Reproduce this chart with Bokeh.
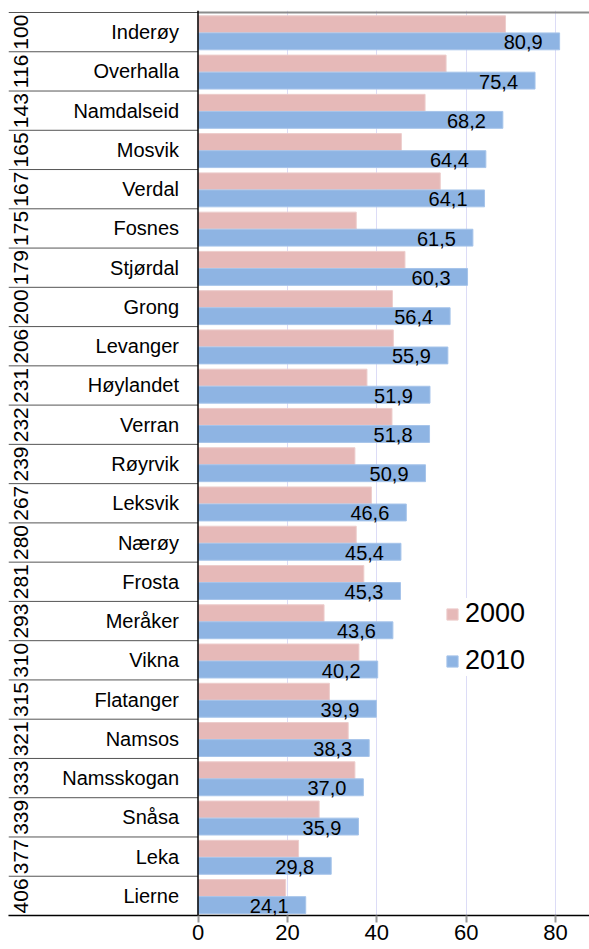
import math
from bokeh.plotting import figure
from bokeh.models import (ColumnDataSource, Range1d, FixedTicker, Span,
                          Legend, LegendItem)
from bokeh.core.properties import value
from bokeh.embed import file_html
from bokeh.resources import INLINE

names = ["Inderøy", "Overhalla", "Namdalseid", "Mosvik", "Verdal", "Fosnes",
         "Stjørdal", "Grong", "Levanger", "Høylandet", "Verran", "Røyrvik",
         "Leksvik", "Nærøy", "Frosta", "Meråker", "Vikna", "Flatanger",
         "Namsos", "Namsskogan", "Snåsa", "Leka", "Lierne"]
ranks = [100, 116, 143, 165, 167, 175, 179, 200, 206, 231, 232, 239, 267,
         280, 281, 293, 310, 315, 321, 333, 339, 377, 406]
v2000 = [68.8, 55.5, 50.8, 45.5, 54.2, 35.4, 46.3, 43.5, 43.7, 37.8, 43.4,
         35.1, 38.8, 35.4, 37.1, 28.2, 36.0, 29.4, 33.6, 35.1, 27.1, 22.5, 19.6]
v2010 = [80.9, 75.4, 68.2, 64.4, 64.1, 61.5, 60.3, 56.4, 55.9, 51.9, 51.8,
         50.9, 46.6, 45.4, 45.3, 43.6, 40.2, 39.9, 38.3, 37.0, 35.9, 29.8, 24.1]
x_ticks = [0, 20, 40, 60, 80]
series = ["2000", "2010"]

PINK = "#E6B9B8"
BLUE = "#8EB4E3"
FONT = "Liberation Sans"

n = len(names)
centers = [n - i - 0.5 for i in range(n)]
boundaries = list(range(n + 1))

# layout (pixels)
W, H = 589, 949
FRAME_L, FRAME_T, FRAME_B = 8, 10, 915
AXIS_X = 197.5            # pixel position of value 0
PX_PER_UNIT = 4.47
TOP_PAD_PX = 2
cat_px = (FRAME_B - FRAME_T - TOP_PAD_PX) / n

x_start = -(AXIS_X - FRAME_L) / PX_PER_UNIT
x_end = (W - AXIS_X) / PX_PER_UNIT
y_end = n + TOP_PAD_PX / cat_px

src = ColumnDataSource(dict(
    name=names, rank=[str(r) for r in ranks],
    v2000=v2000, v2010=v2010,
    yc=centers,
    y2000=[c + 0.20 for c in centers],
    y2010=[c - 0.235 for c in centers],
    lab=[f"{v:.1f}".replace(".", ",") for v in v2010],
    xl=[0] * n,
    xr=[x_start] * n,
))
sep = ColumnDataSource(dict(y=boundaries, x0=[x_start] * len(boundaries),
                            x1=[0] * len(boundaries)))

p = figure(width=W, height=H, output_backend="svg", toolbar_location=None,
           x_range=Range1d(x_start, x_end), y_range=Range1d(0, y_end),
           min_border_left=FRAME_L, min_border_top=FRAME_T,
           min_border_bottom=H - FRAME_B, min_border_right=0)
p.outline_line_color = None
p.background_fill_color = "white"
p.border_fill_color = "white"

# grid
p.xgrid.ticker = FixedTicker(ticks=x_ticks[1:])
p.xgrid.grid_line_color = "#DCDCF6"
p.xgrid.grid_line_width = 1
p.ygrid.visible = False

r1 = p.hbar(y="y2000", right="v2000", left=0, height=0.43, source=src,
            fill_color=PINK, line_color="#EDCDCC", line_width=1)
r2 = p.hbar(y="y2010", right="v2010", left=0, height=0.43, source=src,
            fill_color=BLUE, line_color="#A6C4EA", line_width=1)

p.text(x="v2010", y="y2010", text="lab", source=src, text_align="right",
       text_baseline="middle", x_offset=-17, y_offset=1,
       text_font_size="20px", text_font=value(FONT), text_color="black")

# left label area: separators, names, rotated ranks
p.segment(x0="x0", x1="x1", y0="y", y1="y", source=sep,
          line_color="#555555", line_width=1)
p.text(x="xl", y="yc", text="name", source=src, text_align="right",
       text_baseline="middle", x_offset=-19, text_font_size="20px",
       text_font=value(FONT), text_color="black")
p.text(x="xr", y="yc", text="rank", source=src, angle=math.pi / 2,
       text_align="center", text_baseline="middle", x_offset=12,
       text_font_size="21px", text_font=value(FONT), text_color="black")

# top line of plot area and the value axis line
p.segment(x0=[0], x1=[x_end], y0=[n], y1=[n], line_color="#8C8C8C",
          line_width=2)
p.add_layout(Span(location=0, dimension="height", line_color="black",
                  line_width=1.5))

# x axis
xa = p.xaxis[0]
xa.ticker = FixedTicker(ticks=x_ticks)
xa.axis_line_color = "black"
xa.axis_line_width = 1.5
xa.major_tick_out = 7
xa.major_tick_in = 0
xa.major_tick_line_color = "#9A9A9A"
xa.major_tick_line_width = 2
xa.minor_tick_line_color = None
xa.major_label_standoff = 2
xa.major_label_text_font = FONT
xa.major_label_text_font_size = "22px"
xa.major_label_text_color = "black"
p.yaxis.visible = False

legend = Legend(items=[LegendItem(label=series[0], renderers=[r1]),
                       LegendItem(label=series[1], renderers=[r2])],
                location=(437, 239))
legend.glyph_width = 14
legend.glyph_height = 14
legend.label_standoff = 6
legend.label_text_font = FONT
legend.label_text_font_size = "27px"
legend.label_text_color = "black"
legend.label_height = 30
legend.spacing = 16
legend.padding = 8
legend.margin = 0
legend.background_fill_color = "white"
legend.background_fill_alpha = 1
legend.border_line_color = None
p.add_layout(legend)

open("out.html", "w").write(file_html(p, INLINE))
